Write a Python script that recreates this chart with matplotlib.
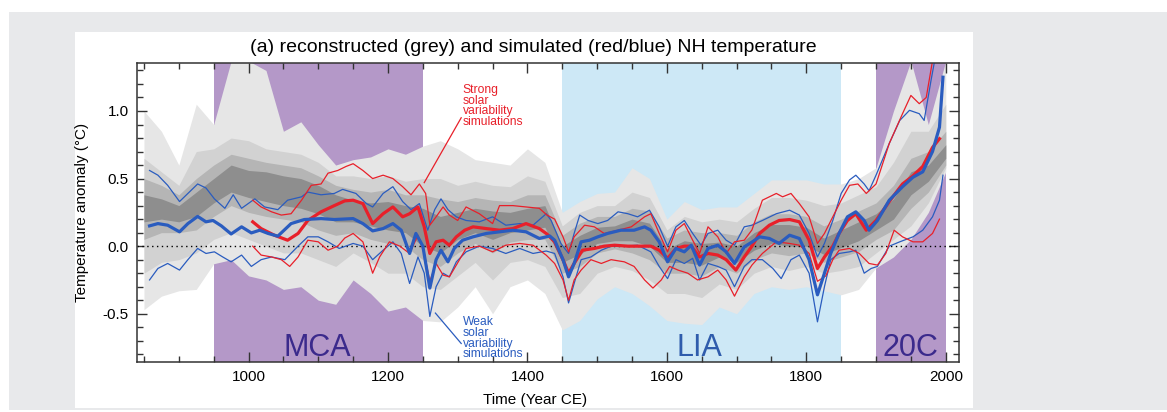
import matplotlib
matplotlib.use("Agg")
from matplotlib import pyplot as plt
from matplotlib.patches import Rectangle
from matplotlib.ticker import MultipleLocator

plt.rcParams["font.family"] = ["Liberation Sans", "DejaVu Sans"]

# ---- shaded periods ----
periods = ["MCA", "LIA", "20C"]
period_start = [950, 1450, 1900]
period_end = [1250, 1850, 2000]
period_label_year = [1099, 1647, 1950]

# ---- reconstruction envelope (grey), 25-year steps ----
band_years = list(range(850, 2001, 25))
outer_hi = [1.0, 0.85, 0.6, 1.05, 0.9, 1.37, 1.37, 1.3, 0.85, 0.92, 0.75, 0.6, 0.64, 0.66, 0.72, 0.68,
            0.74, 0.78, 0.72, 0.64, 0.62, 0.6, 0.72, 0.62, 0.25, 0.33, 0.39, 0.40, 0.58, 0.5, 0.2, 0.33,
            0.27, 0.29, 0.29, 0.39, 0.49, 0.49, 0.49, 0.46, 0.46, 0.50, 0.58, 1.0, 1.37, 0.9, 1.37]
outer_lo = [-0.47, -0.37, -0.33, -0.32, -0.13, -0.10, -0.22, -0.25, -0.32, -0.30, -0.40, -0.43, -0.25,
            -0.35, -0.48, -0.45, -0.55, -0.56, -0.45, -0.3, -0.50, -0.30, -0.25, -0.35, -0.62, -0.55,
            -0.39, -0.30, -0.35, -0.44, -0.55, -0.57, -0.58, -0.45, -0.50, -0.35, -0.30, -0.32, -0.30,
            -0.33, -0.36, -0.32, -0.16, -0.08, 0.05, 0.25, 0.55]
mid_hi = [0.65, 0.55, 0.45, 0.7, 0.72, 0.8, 0.78, 0.72, 0.7, 0.68, 0.62, 0.52, 0.52, 0.5, 0.52, 0.48,
          0.5, 0.5, 0.45, 0.48, 0.45, 0.44, 0.52, 0.48, 0.15, 0.25, 0.3, 0.3, 0.4, 0.36, 0.12, 0.22,
          0.18, 0.2, 0.18, 0.28, 0.36, 0.36, 0.34, 0.3, 0.32, 0.38, 0.44, 0.62, 0.85, 0.85, 1.05]
mid_lo = [-0.2, -0.12, -0.1, -0.05, 0.05, 0.1, 0.05, 0.0, -0.05, -0.05, -0.1, -0.15, -0.05, -0.12,
          -0.2, -0.2, -0.3, -0.32, -0.22, -0.12, -0.25, -0.12, -0.1, -0.15, -0.38, -0.35, -0.2, -0.15,
          -0.18, -0.25, -0.35, -0.35, -0.38, -0.28, -0.32, -0.2, -0.15, -0.18, -0.15, -0.2, -0.18,
          -0.15, -0.05, 0.05, 0.15, 0.32, 0.58]
inner_hi = [0.5, 0.45, 0.38, 0.5, 0.6, 0.68, 0.65, 0.62, 0.6, 0.58, 0.52, 0.45, 0.42, 0.4, 0.42, 0.38,
            0.38, 0.35, 0.33, 0.36, 0.34, 0.33, 0.38, 0.38, 0.08, 0.17, 0.22, 0.22, 0.28, 0.26, 0.06,
            0.12, 0.1, 0.1, 0.08, 0.18, 0.24, 0.24, 0.22, 0.15, 0.2, 0.26, 0.32, 0.45, 0.65, 0.7, 0.85]
inner_lo = [0.05, 0.1, 0.1, 0.12, 0.22, 0.3, 0.25, 0.22, 0.2, 0.18, 0.12, 0.08, 0.1, 0.05, 0.02, 0.0,
            -0.1, -0.15, -0.05, 0.02, -0.05, 0.03, 0.05, 0.05, -0.2, -0.15, -0.05, -0.02, -0.05, -0.1,
            -0.2, -0.2, -0.22, -0.15, -0.2, -0.1, -0.05, -0.07, -0.05, -0.12, -0.08, -0.04, 0.05, 0.12,
            0.28, 0.4, 0.6]
core_hi = [0.38, 0.35, 0.3, 0.4, 0.5, 0.6, 0.56, 0.55, 0.52, 0.5, 0.45, 0.38, 0.34, 0.32, 0.33, 0.3,
           0.28, 0.22, 0.25, 0.28, 0.26, 0.25, 0.28, 0.3, 0.0, 0.08, 0.14, 0.15, 0.2, 0.17, -0.02, 0.04,
           0.02, 0.03, 0.0, 0.1, 0.16, 0.16, 0.14, 0.06, 0.12, 0.18, 0.24, 0.35, 0.55, 0.6, 0.75]
core_lo = [0.18, 0.2, 0.18, 0.22, 0.32, 0.4, 0.36, 0.33, 0.3, 0.28, 0.24, 0.18, 0.18, 0.15, 0.12, 0.1,
           0.0, -0.05, 0.05, 0.1, 0.05, 0.1, 0.12, 0.14, -0.12, -0.06, 0.02, 0.04, 0.04, 0.0, -0.12,
           -0.12, -0.14, -0.08, -0.12, -0.03, 0.02, 0.0, 0.0, -0.06, -0.01, 0.04, 0.12, 0.2, 0.38, 0.48,
           0.65]

# ---- weak solar variability simulations (blue) ----
blue_mean_years = [858, 870, 884, 901, 913, 927, 939, 949, 961, 975, 990, 1004, 1016, 1028, 1042, 1061,
                   1080, 1104, 1123, 1150, 1164, 1178, 1193, 1207, 1219, 1231, 1240, 1250, 1260, 1269,
                   1276, 1286, 1295, 1307, 1322, 1341, 1360, 1379, 1398, 1417, 1432, 1439, 1451, 1459,
                   1467, 1477, 1489, 1501, 1515, 1534, 1553, 1568, 1577, 1589, 1601, 1613, 1625, 1635,
                   1647, 1659, 1673, 1685, 1697, 1711, 1722, 1733, 1747, 1761, 1776, 1790, 1804, 1816,
                   1826, 1835, 1847, 1859, 1871, 1883, 1890, 1902, 1919, 1938, 1953, 1967, 1981, 1991,
                   1996]
blue_mean = [0.15, 0.167, 0.155, 0.106, 0.167, 0.22, 0.18, 0.19, 0.15, 0.09, 0.143, 0.098, 0.118, 0.094,
             0.074, 0.167, 0.197, 0.204, 0.197, 0.204, 0.167, 0.113, 0.13, 0.167, 0.118, -0.054, 0.094,
             0.0, -0.31, -0.10, -0.03, -0.116, -0.017, 0.044, 0.069, 0.094, 0.106, 0.118, 0.106, 0.057,
             0.075, 0.044, -0.10, -0.227, -0.128, 0.032, 0.044, 0.069, 0.094, 0.118, 0.118, 0.143,
             0.118, 0.032, -0.116, -0.017, -0.042, 0.007, -0.14, -0.017, 0.007, -0.042, -0.128, -0.005,
             0.03, 0.069, 0.057, 0.02, 0.081, 0.057, -0.10, -0.36, -0.20, -0.054, 0.094, 0.217, 0.254,
             0.19, 0.118, 0.19, 0.34, 0.44, 0.51, 0.55, 0.70, 0.88, 1.25]

blue_hi_years = [858, 870, 884, 901, 913, 927, 939, 951, 966, 978, 990, 1009, 1023, 1042, 1056, 1076,
                 1085, 1104, 1123, 1135, 1154, 1169, 1178, 1193, 1207, 1221, 1233, 1245, 1257, 1267,
                 1276, 1286, 1298, 1312, 1331, 1350, 1369, 1389, 1408, 1427, 1434, 1448, 1459, 1467,
                 1475, 1487, 1501, 1515, 1530, 1544, 1558, 1575, 1589, 1601, 1613, 1625, 1637, 1649,
                 1659, 1673, 1685, 1697, 1711, 1722, 1737, 1757, 1776, 1790, 1804, 1816, 1826, 1838,
                 1850, 1862, 1871, 1883, 1890, 1900, 1919, 1934, 1948, 1962, 1969, 1979, 1984]
blue_hi = [0.56, 0.525, 0.45, 0.33, 0.39, 0.46, 0.43, 0.35, 0.28, 0.38, 0.28, 0.35, 0.29, 0.27, 0.34,
           0.365, 0.40, 0.38, 0.39, 0.42, 0.39, 0.315, 0.29, 0.39, 0.44, 0.33, 0.27, 0.315, 0.118, 0.27,
           0.35, 0.27, 0.217, 0.19, 0.18, 0.217, 0.155, 0.167, 0.155, 0.24, 0.19, 0.02, -0.054, 0.094,
           0.23, 0.19, 0.167, 0.19, 0.254, 0.24, 0.217, 0.266, 0.143, 0.0, 0.143, 0.19, 0.094, 0.007,
           0.094, 0.118, 0.044, 0.007, 0.143, 0.155, 0.19, 0.24, 0.266, 0.23, 0.094, -0.08, 0.02, 0.19,
           0.39, 0.49, 0.525, 0.46, 0.41, 0.525, 0.76, 0.93, 1.005, 0.98, 0.93, 1.23, 1.37]

blue_lo_years = [858, 870, 884, 901, 913, 927, 939, 951, 963, 975, 990, 1004, 1018, 1033, 1052, 1071,
                 1085, 1100, 1114, 1130, 1150, 1164, 1178, 1193, 1207, 1219, 1231, 1243, 1252, 1260,
                 1269, 1279, 1288, 1298, 1312, 1331, 1350, 1369, 1389, 1408, 1427, 1439, 1451, 1459,
                 1467, 1477, 1491, 1506, 1520, 1539, 1558, 1577, 1589, 1601, 1613, 1625, 1637, 1647,
                 1659, 1673, 1685, 1697, 1711, 1722, 1737, 1752, 1764, 1778, 1790, 1804, 1816, 1826,
                 1835, 1847, 1862, 1871, 1883, 1893, 1902, 1919, 1934, 1953, 1967, 1981, 1991, 1996]
blue_lo = [-0.25, -0.165, -0.128, -0.177, -0.10, -0.017, -0.054, -0.042, -0.08, -0.116, -0.066, -0.15,
           -0.10, -0.08, -0.10, 0.0, 0.069, 0.069, 0.032, -0.017, 0.02, 0.0, -0.10, -0.03, 0.032, -0.054,
           -0.276, -0.08, -0.20, -0.52, -0.30, -0.20, -0.227, -0.116, -0.042, 0.0, -0.017, -0.054,
           -0.017, -0.054, -0.036, -0.054, -0.227, -0.42, -0.276, -0.10, -0.08, -0.03, 0.0, 0.0, 0.007,
           -0.042, -0.15, -0.24, -0.10, -0.128, -0.09, -0.25, -0.128, -0.15, -0.177, -0.30, -0.15, -0.10,
           -0.10, -0.165, -0.24, -0.10, -0.066, -0.20, -0.56, -0.30, -0.10, -0.054, -0.042, -0.03, -0.20,
           -0.165, -0.15, 0.0, 0.032, 0.069, 0.118, 0.217, 0.34, 0.525]

# ---- strong solar variability simulations (red) ----
red_mean_years = [1006, 1018, 1037, 1056, 1071, 1085, 1104, 1123, 1138, 1150, 1164, 1178, 1193, 1207,
                  1221, 1231, 1243, 1252, 1260, 1269, 1279, 1288, 1298, 1310, 1322, 1341, 1360, 1379,
                  1398, 1417, 1428, 1439, 1451, 1459, 1467, 1479, 1496, 1510, 1525, 1544, 1563, 1577,
                  1589, 1601, 1613, 1625, 1635, 1647, 1659, 1673, 1685, 1699, 1711, 1722, 1733, 1747,
                  1761, 1776, 1790, 1804, 1816, 1826, 1838, 1847, 1859, 1871, 1886, 1900, 1919, 1938,
                  1953, 1967, 1981, 1991]
red_mean = [0.18, 0.13, 0.081, 0.044, 0.094, 0.19, 0.254, 0.30, 0.335, 0.34, 0.315, 0.167, 0.24, 0.29,
            0.217, 0.24, 0.29, 0.143, -0.054, 0.032, 0.044, 0.007, 0.069, 0.118, 0.143, 0.13, 0.118,
            0.13, 0.167, 0.13, 0.09, 0.032, -0.10, -0.20, -0.128, -0.03, -0.017, 0.0, 0.007, 0.0, 0.0,
            0.0, -0.03, -0.09, -0.017, 0.0, 0.0, -0.08, -0.054, -0.066, -0.10, -0.177, -0.08, 0.0,
            0.094, 0.155, 0.19, 0.197, 0.18, 0.044, -0.165, -0.08, 0.0, 0.094, 0.19, 0.24, 0.118, 0.19,
            0.33, 0.46, 0.52, 0.59, 0.73, 0.795]

red_hi_years = [1006, 1018, 1033, 1047, 1061, 1076, 1090, 1104, 1114, 1128, 1140, 1150, 1164, 1178,
                1193, 1207, 1221, 1233, 1245, 1254, 1260, 1269, 1279, 1288, 1300, 1312, 1331, 1350,
                1360, 1379, 1398, 1417, 1428, 1439, 1451, 1459, 1467, 1482, 1496, 1510, 1530, 1549,
                1568, 1577, 1589, 1601, 1613, 1625, 1637, 1647, 1659, 1673, 1685, 1697, 1711, 1722,
                1737, 1757, 1766, 1778, 1790, 1804, 1816, 1826, 1838, 1850, 1862, 1874, 1886, 1900,
                1919, 1938, 1950, 1962, 1972, 1981]
red_hi = [0.34, 0.29, 0.254, 0.23, 0.24, 0.34, 0.45, 0.46, 0.54, 0.56, 0.59, 0.61, 0.56, 0.50, 0.525,
          0.50, 0.44, 0.38, 0.46, 0.39, 0.155, 0.217, 0.29, 0.23, 0.19, 0.29, 0.24, 0.167, 0.30, 0.30,
          0.29, 0.28, 0.23, 0.20, 0.069, -0.042, 0.069, 0.155, 0.143, 0.094, 0.118, 0.143, 0.217, 0.24,
          0.094, -0.042, 0.118, 0.167, 0.044, -0.054, 0.143, 0.069, -0.054, 0.032, 0.044, 0.12, 0.34,
          0.39, 0.365, 0.39, 0.315, 0.217, 0.02, 0.094, 0.217, 0.34, 0.45, 0.46, 0.39, 0.46, 0.76, 0.98,
          1.115, 1.054, 1.10, 1.37]

red_lo_years = [1006, 1018, 1033, 1047, 1059, 1071, 1085, 1100, 1114, 1128, 1138, 1150, 1164, 1178,
                1188, 1202, 1217, 1231, 1243, 1252, 1260, 1269, 1279, 1288, 1298, 1312, 1331, 1350,
                1369, 1389, 1408, 1427, 1439, 1451, 1459, 1467, 1477, 1491, 1506, 1520, 1539, 1553,
                1568, 1580, 1592, 1604, 1616, 1630, 1644, 1659, 1673, 1685, 1697, 1711, 1722, 1737,
                1757, 1776, 1790, 1804, 1816, 1828, 1838, 1847, 1862, 1876, 1890, 1902, 1914, 1926,
                1938, 1953, 1967, 1981, 1991]
red_lo = [0.0, -0.066, -0.08, -0.10, -0.15, -0.08, 0.044, 0.032, -0.03, 0.0, 0.06, 0.094, 0.032, -0.20,
          -0.08, 0.032, 0.0, -0.054, 0.081, -0.054, -0.26, -0.128, -0.214, -0.227, -0.14, -0.017, 0.0,
          -0.042, 0.007, 0.02, 0.007, -0.067, -0.128, -0.25, -0.40, -0.25, -0.177, -0.10, -0.128, -0.10,
          -0.116, -0.15, -0.25, -0.31, -0.25, -0.15, -0.177, -0.20, -0.25, -0.227, -0.177, -0.25, -0.37,
          -0.227, -0.14, -0.054, 0.032, 0.02, 0.007, -0.054, -0.26, -0.22, -0.10, -0.03, -0.017, -0.054,
          -0.128, -0.14, -0.054, 0.118, 0.069, 0.032, 0.032, 0.094, 0.20]

RED = "#e8202a"
BLUE = "#2a5cbf"
PURPLE = "#b498c8"
LIGHTBLUE = "#cde8f6"

fig = plt.figure(figsize=(11.67, 4.12), dpi=100)
fig.patches.append(Rectangle((9 / 1167, 2 / 412), 1.0, 398 / 412, transform=fig.transFigure,
                             facecolor="#e8e9eb", edgecolor="none", zorder=-10))
fig.patches.append(Rectangle((75 / 1167, 4 / 412), 898 / 1167, 376 / 412, transform=fig.transFigure,
                             facecolor="white", edgecolor="none", zorder=-9))

ax = fig.add_axes([137 / 1167, 50 / 412, 822 / 1167, 299 / 412])
ax.set_facecolor("white")

period_colors = [PURPLE, LIGHTBLUE, PURPLE]
label_colors = ["#3b2a8c", "#2f5cac", "#3b2a8c"]
for name, s, e, ly, c, lc in zip(periods, period_start, period_end, period_label_year,
                                 period_colors, label_colors):
    ax.axvspan(s, e, color=c, lw=0, zorder=0)
    ax.text(ly, -0.81, name, color=lc, fontsize=22, ha="center", va="baseline", zorder=10)

# reconstruction density, light to dark
ax.fill_between(band_years, outer_lo, outer_hi, color="#e6e6e6", lw=0, zorder=1)
ax.fill_between(band_years, mid_lo, mid_hi, color="#d2d2d2", lw=0, zorder=2)
ax.fill_between(band_years, inner_lo, inner_hi, color="#b5b5b5", lw=0, zorder=3)
ax.fill_between(band_years, core_lo, core_hi, color="#8e8e8e", lw=0, zorder=4)

ax.axhline(0, color="black", lw=1.0, linestyle=(0, (1, 2.5)), zorder=5)

ax.plot(blue_hi_years, blue_hi, color=BLUE, lw=0.9, zorder=6)
ax.plot(blue_lo_years, blue_lo, color=BLUE, lw=0.9, zorder=6)
ax.plot(red_hi_years, red_hi, color=RED, lw=0.9, zorder=6)
ax.plot(red_lo_years, red_lo, color=RED, lw=0.9, zorder=6)
ax.plot(red_mean_years, red_mean, color=RED, lw=2.3, zorder=7)
ax.plot(blue_mean_years, blue_mean, color=BLUE, lw=2.3, zorder=8)

ax.text(1307, 1.2, "Strong\nsolar\nvariability\nsimulations", color=RED, fontsize=8.7,
        ha="left", va="top", linespacing=0.85, zorder=10)
ax.plot([1305, 1252], [0.95, 0.47], color=RED, lw=0.9, zorder=10)
ax.text(1307, -0.52, "Weak\nsolar\nvariability\nsimulations", color=BLUE, fontsize=8.7,
        ha="left", va="top", linespacing=0.85, zorder=10)
ax.plot([1268, 1305], [-0.495, -0.72], color=BLUE, lw=0.9, zorder=10)

ax.set_xlim(840, 2019)
ax.set_ylim(-0.857, 1.355)
ax.xaxis.set_major_locator(MultipleLocator(200))
ax.xaxis.set_minor_locator(MultipleLocator(50))
ax.yaxis.set_minor_locator(MultipleLocator(0.1))
ax.set_yticks([-0.5, 0.0, 0.5, 1.0])
ax.set_yticklabels(["-0.5", "0.0", "0.5", "1.0"])
ax.tick_params(which="both", direction="in", top=True, right=True, color="#333333",
               labelsize=11, width=1.0)
ax.tick_params(which="major", length=7, pad=6)
ax.tick_params(which="minor", length=4)
for sp in ax.spines.values():
    sp.set_linewidth(1.1)
    sp.set_color("#333333")
    sp.set_zorder(12)

ax.set_xlabel("Time (Year CE)", fontsize=11)
ax.set_ylabel("Temperature anomaly (\u00b0C)", fontsize=11)
ax.xaxis.set_label_coords(0.484, -0.105)
ax.yaxis.set_label_coords(-0.058, 0.5)

fig.text(533 / 1167, 1 - 47 / 412, "(a) reconstructed (grey) and simulated (red/blue) NH temperature",
         fontsize=14, ha="center", va="center")

fig.savefig("out.png", dpi=100)
